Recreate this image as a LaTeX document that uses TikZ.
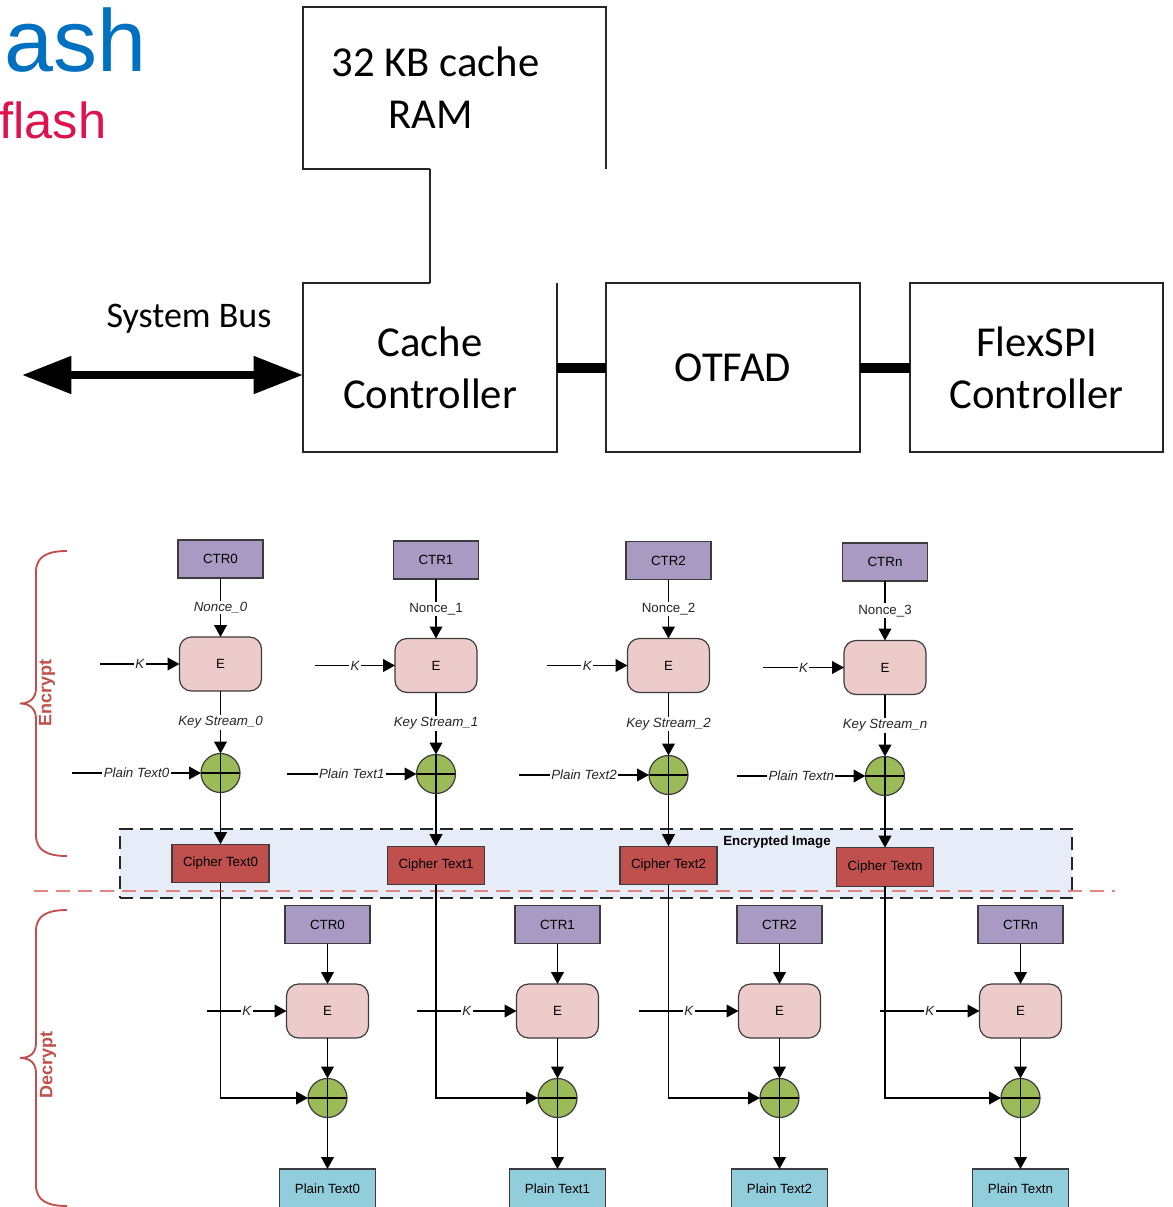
\documentclass[tikz,border=0pt]{standalone}
\usepackage{fontspec}
\setmainfont{Liberation Sans}
\newfontfamily\cbr{Carlito}
\usetikzlibrary{arrows.meta}

\definecolor{ctrfill}{RGB}{168,154,194}
\definecolor{efill}{RGB}{236,203,202}
\definecolor{xorfill}{RGB}{155,187,89}
\definecolor{cipherfill}{RGB}{192,80,77}
\definecolor{plainfill}{RGB}{146,205,220}
\definecolor{imgfill}{RGB}{230,237,248}
\definecolor{bracered}{RGB}{192,80,77}
\definecolor{splitred}{RGB}{226,132,128}
\definecolor{edge}{RGB}{60,60,60}
\definecolor{titleblue}{RGB}{0,112,192}
\definecolor{titlered}{RGB}{222,18,78}

\begin{document}
\begin{tikzpicture}[x=0.75pt,y=-0.75pt,
  % upper block diagram
  frame/.style={draw=black!85, line width=1pt},
  topbox/.style={minimum width=190.5pt, minimum height=126.75pt, inner sep=0pt, outer sep=0pt,
    align=center, font=\cbr\fontsize{32}{39}\selectfont},
  bar/.style={line width=7.5pt},
  % CTR-mode stages
  small/.style={font=\fontsize{10}{12}\selectfont},
  ctr/.style={small, draw=edge, fill=ctrfill, line width=0.9pt, minimum width=63.75pt,
    minimum height=28.5pt, inner sep=0pt, outer sep=0pt},
  enc/.style={small, draw=edge, fill=efill, line width=0.9pt, rounded corners=9pt,
    minimum width=61.5pt, minimum height=40.5pt, inner sep=0pt, outer sep=0pt},
  xor/.style={circle, draw=edge, fill=xorfill, line width=0.9pt, minimum size=29.25pt,
    inner sep=0pt, outer sep=0pt,
    path picture={\draw[line width=1pt,black]
      (path picture bounding box.north) -- (path picture bounding box.south)
      (path picture bounding box.west) -- (path picture bounding box.east);}},
  cipher/.style={small, draw=edge, fill=cipherfill, line width=0.9pt, minimum width=72.75pt,
    minimum height=29pt, inner sep=0pt, outer sep=0pt},
  plain/.style={small, draw=edge, fill=plainfill, line width=0.9pt, minimum width=72.5pt,
    minimum height=29.25pt, inner sep=0pt, outer sep=0pt},
  lbl/.style={small, fill=white, inner sep=1pt, text=black!85},
  ilbl/.style={lbl, font=\fontsize{10}{12}\selectfont\itshape},
  arr/.style={draw=black, line width=1.4pt, -{Triangle[length=9pt,width=9.5pt]}},
  brace/.style={draw=bracered, line width=1.4pt},
  side/.style={text=bracered, font=\fontsize{13.5}{16}\selectfont\bfseries, rotate=90}]

\useasboundingbox (0,0) rectangle (1173,1207);

% ---------- heading fragments ----------
\node[anchor=base west, inner sep=0pt, text=titleblue, font=\fontsize{66}{78}\selectfont] (ttl) at (4,71) {ash};
\node[anchor=base west, inner sep=0pt, text=titlered, font=\fontsize{38}{46}\selectfont] (sub) at (-1,138) {flash};

% ---------- cache path ----------
\node[topbox, minimum width=227.25pt, minimum height=121.5pt] (ram) at (454.5,88) {};
\node[font=\cbr\fontsize{32}{39}\selectfont, inner sep=0pt] (ramtxt) at (435.5,62) {32 KB cache};
\node[font=\cbr\fontsize{32}{39}\selectfont, inner sep=0pt] (ramtxt2) at (430.5,115) {RAM};
\node[topbox] (cache) at (430,367.5) {Cache\\Controller};
\node[topbox, frame] (otfad) at (733,367.5) {OTFAD};
\node[topbox, frame, minimum width=189.75pt] (flexspi) at (1036.5,367.5) {FlexSPI\\Controller};

\coordinate (ramtap) at (430,169);
\coordinate (cachetap) at (430,283);
\draw[frame] (ramtap) -- (ram.south west) -- (ram.north west) -- (ram.north east) -- (ram.south east);
\draw[frame] (cachetap) -- (cache.north west) -- (cache.south west) -- (cache.south east) -- (cache.north east);
\draw[frame, line width=1.4pt] (ramtap) -- (cachetap);

\draw[bar] (cache.east) -- (otfad.west);
\draw[bar] (otfad.east) -- (flexspi.west);

\coordinate (busend) at (22,375);
\draw[line width=6pt, {Triangle[length=37pt,width=27pt]}-{Triangle[length=37pt,width=27pt]}]
  (busend) -- (cache.west |- busend);
\node[font=\cbr\fontsize{27}{32}\selectfont, inner sep=0pt] (buslbl) at (189,319) {System Bus};

% ---------- encrypted image band ----------
\node[draw=black!85, fill=imgfill, line width=1.5pt, dash pattern=on 10pt off 5pt,
  minimum width=714pt, minimum height=51.75pt, inner sep=0pt] (img) at (596,863.5) {};
\coordinate (splitL) at (34,891);
\coordinate (splitR) at (1115,891);
\draw[splitred, line width=1.5pt, dash pattern=on 10.5pt off 6pt] (splitL) -- (splitR);
\node[small, font=\fontsize{10}{12}\selectfont\bfseries, inner sep=0pt] (imglbl) at (777,842) {Encrypted Image};

% ---------- encrypt stages ----------
\node[ctr] (ctr0) at (220.5,559) {CTR0};
\node[ctr] (ctr1) at (436,560) {CTR1};
\node[ctr] (ctr2) at (668.5,560.5) {CTR2};
\node[ctr] (ctr3) at (885,562) {CTRn};

\node[enc] (e0) at (220.5,664) {E};
\node[enc] (e1) at (436,665.5) {E};
\node[enc] (e2) at (668.5,665.5) {E};
\node[enc] (e3) at (885,667.5) {E};

\node[xor] (x0) at (220.5,773) {};
\node[xor] (x1) at (436,774) {};
\node[xor] (x2) at (668.5,775) {};
\node[xor] (x3) at (885,776) {};

\node[cipher] (c0) at (220.5,863.5) {Cipher Text0};
\node[cipher] (c1) at (436,865.5) {Cipher Text1};
\node[cipher] (c2) at (668.5,865.5) {Cipher Text2};
\node[cipher] (c3) at (885,867) {Cipher Textn};

\draw[arr] (ctr0) -- node[ilbl] {Nonce\_0} (e0);
\draw[arr] (ctr1) -- node[lbl] {Nonce\_1} (e1);
\draw[arr] (ctr2) -- node[lbl] {Nonce\_2} (e2);
\draw[arr] (ctr3) -- node[lbl] {Nonce\_3} (e3);

\draw[arr] (e0) -- node[ilbl] {Key Stream\_0} (x0);
\draw[arr] (e1) -- node[ilbl] {Key Stream\_1} (x1);
\draw[arr] (e2) -- node[ilbl] {Key Stream\_2} (x2);
\draw[arr] (e3) -- node[ilbl] {Key Stream\_n} (x3);

\coordinate (k0) at (100,664);
\coordinate (k1) at (315,665.5);
\coordinate (k2) at (547,665.5);
\coordinate (k3) at (763,667.5);
\draw[arr] (k0) -- node[ilbl] {K} (e0);
\draw[arr] (k1) -- node[ilbl] {K} (e1);
\draw[arr] (k2) -- node[ilbl] {K} (e2);
\draw[arr] (k3) -- node[ilbl] {K} (e3);

\coordinate (p0) at (72,773);
\coordinate (p1) at (287,774);
\coordinate (p2) at (519,775);
\coordinate (p3) at (737,776);
\draw[arr] (p0) -- node[ilbl] {Plain Text0} (x0);
\draw[arr] (p1) -- node[ilbl] {Plain Text1} (x1);
\draw[arr] (p2) -- node[ilbl] {Plain Text2} (x2);
\draw[arr] (p3) -- node[ilbl] {Plain Textn} (x3);

\draw[arr] (x0) -- (c0);
\draw[arr] (x1) -- (c1);
\draw[arr] (x2) -- (c2);
\draw[arr] (x3) -- (c3);

% ---------- decrypt stages ----------
\node[ctr] (dctr0) at (327.5,924.5) {CTR0};
\node[ctr] (dctr1) at (557.5,924.5) {CTR1};
\node[ctr] (dctr2) at (779.5,924.5) {CTR2};
\node[ctr] (dctr3) at (1020.5,924.5) {CTRn};

\node[enc] (de0) at (327.5,1011) {E};
\node[enc] (de1) at (557.5,1011) {E};
\node[enc] (de2) at (779.5,1011) {E};
\node[enc] (de3) at (1020.5,1011) {E};

\node[xor] (dx0) at (327.5,1098) {};
\node[xor] (dx1) at (557.5,1098) {};
\node[xor] (dx2) at (779.5,1098) {};
\node[xor] (dx3) at (1020.5,1098) {};

\node[plain] (pt0) at (327.5,1188.5) {Plain Text0};
\node[plain] (pt1) at (557.5,1188.5) {Plain Text1};
\node[plain] (pt2) at (779.5,1188.5) {Plain Text2};
\node[plain] (pt3) at (1020.5,1188.5) {Plain Textn};

\coordinate (dk0) at (207,1011);
\coordinate (dk1) at (417,1011);
\coordinate (dk2) at (639,1011);
\coordinate (dk3) at (880,1011);

\draw[arr] (c0.south) |- (dx0.west);
\draw[arr] (c1.south) |- (dx1.west);
\draw[arr] (c2.south) |- (dx2.west);
\draw[arr] (c3.south) |- (dx3.west);

\draw[arr] (dk0) -- node[ilbl] {K} (de0);
\draw[arr] (dk1) -- node[ilbl] {K} (de1);
\draw[arr] (dk2) -- node[ilbl] {K} (de2);
\draw[arr] (dk3) -- node[ilbl] {K} (de3);

\foreach \i in {0,1,2,3} {
  \draw[arr] (dctr\i) -- (de\i);
  \draw[arr] (de\i) -- (dx\i);
  \draw[arr] (dx\i) -- (pt\i);
}

% ---------- side braces ----------
\draw[brace] (67,551) .. controls (48,551) and (36,556) .. (36,572) -- (36,688)
  .. controls (36,698) and (30,703.5) .. (20,703.5)
  .. controls (30,703.5) and (36,709) .. (36,719) -- (36,835)
  .. controls (36,851) and (48,856) .. (67,856);
\node[side] (enclbl) at (47,693) {Encrypt};

\draw[brace] (67,910) .. controls (48,910) and (36,915) .. (36,931) -- (36,1043)
  .. controls (36,1053) and (30,1058) .. (20,1058)
  .. controls (30,1058) and (36,1063) .. (36,1073) -- (36,1185)
  .. controls (36,1201) and (48,1206) .. (67,1206);
\node[side] (declbl) at (48,1065) {Decrypt};

\end{tikzpicture}
\end{document}
